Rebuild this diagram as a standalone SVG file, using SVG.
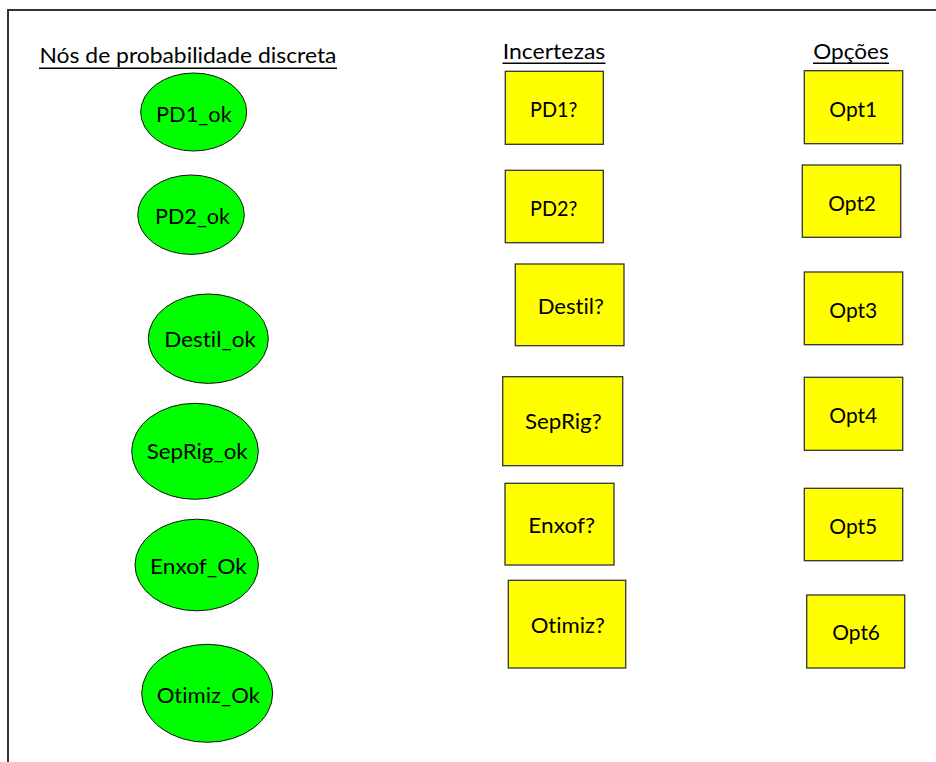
<svg xmlns="http://www.w3.org/2000/svg" width="936" height="762" viewBox="0 0 936 762">
  <style>
    text { font-family: Lato, "Liberation Sans", sans-serif; font-size: 21.5px; fill: #000; font-variant-ligatures: none; }
    .chance ellipse { fill: #00ff00; stroke: #111; stroke-width: 1; }
    .box rect { fill: #ffff00; stroke: #333; stroke-width: 1.3; }
    .rule { stroke: #000; stroke-width: 1.5; }
  </style>
  <rect width="936" height="762" fill="#fff"/>
  <!-- page frame -->
  <path d="M8,762 V10 H936" fill="none" stroke="#333" stroke-width="2"/>

  <!-- column headings -->
  <g id="headings">
    <text x="39.5" y="63" textLength="297" lengthAdjust="spacingAndGlyphs">Nós de probabilidade discreta</text>
    <line class="rule" x1="39" y1="68.3" x2="337" y2="68.3"/>
    <text x="502.7" y="59" textLength="102.6" lengthAdjust="spacingAndGlyphs">Incertezas</text>
    <line class="rule" x1="502.5" y1="63.3" x2="605.5" y2="63.3"/>
    <text x="813.3" y="59" textLength="75.4" lengthAdjust="spacingAndGlyphs">Opções</text>
    <line class="rule" x1="813" y1="63.3" x2="889" y2="63.3"/>
  </g>

  <!-- discrete probability nodes -->
  <g id="PD1_ok" class="chance">
    <ellipse cx="193.7" cy="112" rx="53" ry="39"/>
    <text x="156" y="122.3" textLength="75.7" lengthAdjust="spacingAndGlyphs">PD1_ok</text>
  </g>
  <g id="PD2_ok" class="chance">
    <ellipse cx="191" cy="214.7" rx="53.3" ry="39.7"/>
    <text x="155" y="224" textLength="75" lengthAdjust="spacingAndGlyphs">PD2_ok</text>
  </g>
  <g id="Destil_ok" class="chance">
    <ellipse cx="208.3" cy="338.7" rx="60" ry="44.7"/>
    <text x="164.3" y="347.3" textLength="91.7" lengthAdjust="spacingAndGlyphs">Destil_ok</text>
  </g>
  <g id="SepRig_ok" class="chance">
    <ellipse cx="195" cy="451.3" rx="63.3" ry="48"/>
    <text x="146.7" y="459" textLength="101" lengthAdjust="spacingAndGlyphs">SepRig_ok</text>
  </g>
  <g id="Enxof_Ok" class="chance">
    <ellipse cx="196.7" cy="565" rx="61.7" ry="45.8"/>
    <text x="150" y="574" textLength="96.7" lengthAdjust="spacingAndGlyphs">Enxof_Ok</text>
  </g>
  <g id="Otimiz_Ok" class="chance">
    <ellipse cx="207.2" cy="693.3" rx="65.5" ry="49"/>
    <text x="156.7" y="702.7" textLength="103.3" lengthAdjust="spacingAndGlyphs">Otimiz_Ok</text>
  </g>

  <!-- uncertainties -->
  <g id="PD1q" class="box">
    <rect x="505.3" y="71.3" width="98" height="73"/>
    <text x="530" y="117.3" textLength="47.3" lengthAdjust="spacingAndGlyphs">PD1?</text>
  </g>
  <g id="PD2q" class="box">
    <rect x="505.3" y="170.3" width="98" height="72.4"/>
    <text x="530" y="215.7" textLength="47.3" lengthAdjust="spacingAndGlyphs">PD2?</text>
  </g>
  <g id="Destilq" class="box">
    <rect x="515.3" y="264" width="108.7" height="81.7"/>
    <text x="537.7" y="314.3" textLength="66.3" lengthAdjust="spacingAndGlyphs">Destil?</text>
  </g>
  <g id="SepRigq" class="box">
    <rect x="502.7" y="376.7" width="120" height="89"/>
    <text x="525" y="429.3" textLength="76.7" lengthAdjust="spacingAndGlyphs">SepRig?</text>
  </g>
  <g id="Enxofq" class="box">
    <rect x="505" y="483.3" width="109" height="81.7"/>
    <text x="528.3" y="533.3" textLength="66.7" lengthAdjust="spacingAndGlyphs">Enxof?</text>
  </g>
  <g id="Otimizq" class="box">
    <rect x="508.3" y="580.3" width="117.4" height="87.7"/>
    <text x="530.7" y="633.3" textLength="74.3" lengthAdjust="spacingAndGlyphs">Otimiz?</text>
  </g>

  <!-- options -->
  <g id="Opt1" class="box">
    <rect x="804.3" y="70.7" width="98.4" height="73"/>
    <text x="829.3" y="116.7" textLength="48" lengthAdjust="spacingAndGlyphs">Opt1</text>
  </g>
  <g id="Opt2" class="box">
    <rect x="802.3" y="165" width="98.4" height="72.3"/>
    <text x="828.3" y="211" textLength="47.7" lengthAdjust="spacingAndGlyphs">Opt2</text>
  </g>
  <g id="Opt3" class="box">
    <rect x="804.3" y="272" width="98.4" height="72.7"/>
    <text x="829.3" y="318.3" textLength="48" lengthAdjust="spacingAndGlyphs">Opt3</text>
  </g>
  <g id="Opt4" class="box">
    <rect x="804.3" y="377.3" width="98.4" height="73"/>
    <text x="829.3" y="423.3" textLength="48" lengthAdjust="spacingAndGlyphs">Opt4</text>
  </g>
  <g id="Opt5" class="box">
    <rect x="804.3" y="488.3" width="98.4" height="72.4"/>
    <text x="829.3" y="534" textLength="48" lengthAdjust="spacingAndGlyphs">Opt5</text>
  </g>
  <g id="Opt6" class="box">
    <rect x="806.7" y="595" width="98" height="73"/>
    <text x="832.3" y="640" textLength="47.7" lengthAdjust="spacingAndGlyphs">Opt6</text>
  </g>

  <!-- no links between nodes -->
  <g id="connectors"/>
</svg>
